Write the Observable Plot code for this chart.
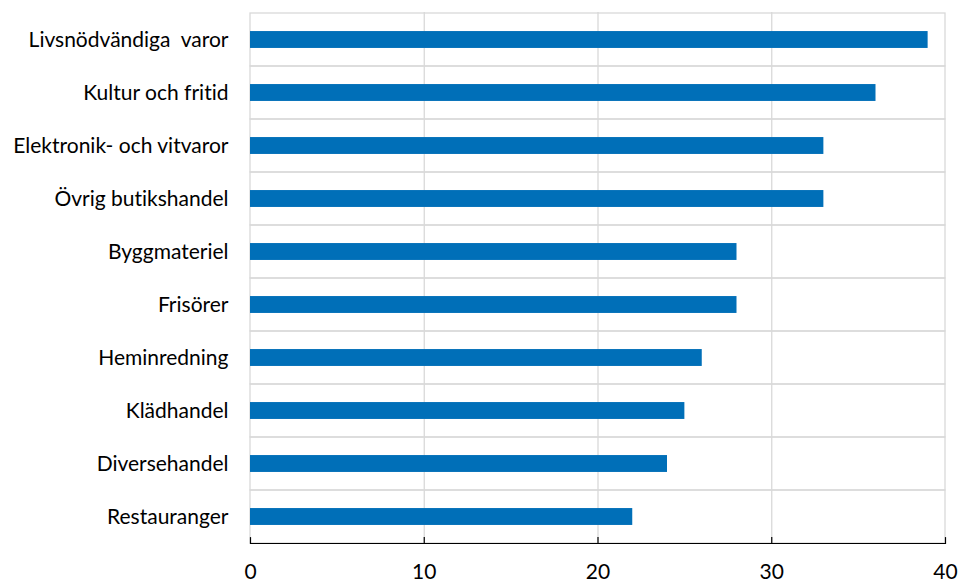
<!DOCTYPE html>
<html>
<head>
<meta charset="utf-8">
<script src="https://cdn.jsdelivr.net/npm/d3@7"></script>
<script src="https://cdn.jsdelivr.net/npm/@observablehq/plot@0.6"></script>
<style>
  html, body { margin: 0; padding: 0; background: #fff; }
  #chart svg { white-space: pre; font-variant-ligatures: none; }
</style>
</head>
<body>
<div id="chart"></div>
<script>
// Branscher, sorterade från störst till minst
const categories = [
  "Livsnödvändiga  varor",
  "Kultur och fritid",
  "Elektronik- och vitvaror",
  "Övrig butikshandel",
  "Byggmateriel",
  "Frisörer",
  "Heminredning",
  "Klädhandel",
  "Diversehandel",
  "Restauranger"
];
const values = [39, 36, 33, 33, 28, 28, 26, 25, 24, 22];
const xTicks = [0, 10, 20, 30, 40];

const data = categories.map((c, i) => ({category: c, value: values[i]}));

const width = 959, height = 583;
const marginTop = 12, marginBottom = 40, marginLeft = 250, marginRight = 14;
const step = (height - marginTop - marginBottom) / categories.length;
const barHeight = 17;
const inset = (step - barHeight) / 2;
const fontFamily = "Lato, 'Open Sans', sans-serif";
const fontSize = 21;

const chart = Plot.plot({
  width, height, marginTop, marginBottom, marginLeft, marginRight,
  style: {fontFamily, fontSize: fontSize + "px", color: "#000", background: "#fff"},
  x: {domain: [0, 40]},
  y: {domain: categories, padding: 0},
  marks: [
    // horisontella stödlinjer mellan kategorierna
    Plot.barX(categories, {y: d => d, x1: 0, x2: 40, fill: "none", stroke: "#d9d9d9", strokeWidth: 1.3}),
    // vertikala stödlinjer
    Plot.ruleX(xTicks.slice(1, -1), {stroke: "#d9d9d9", strokeWidth: 1.3}),
    Plot.barX(data, {y: "category", x: "value", fill: "#006fb8", insetTop: inset, insetBottom: inset}),
    // x-axelns linje och inåtriktade streck
    Plot.frame({anchor: "bottom", stroke: "#000", strokeWidth: 1.2}),
    Plot.tickX(xTicks, {x: d => d, y: () => categories[categories.length - 1], insetTop: step - 6, stroke: "#000", strokeWidth: 1.2}),
    Plot.axisX(xTicks, {tickSize: 0, tickPadding: 21, label: null, fontSize, fill: "#000"}),
    Plot.axisY({tickSize: 0, tickPadding: 22, label: null, fontSize, fill: "#000"})
  ]
});

document.getElementById("chart").appendChild(chart);
</script>
</body>
</html>
